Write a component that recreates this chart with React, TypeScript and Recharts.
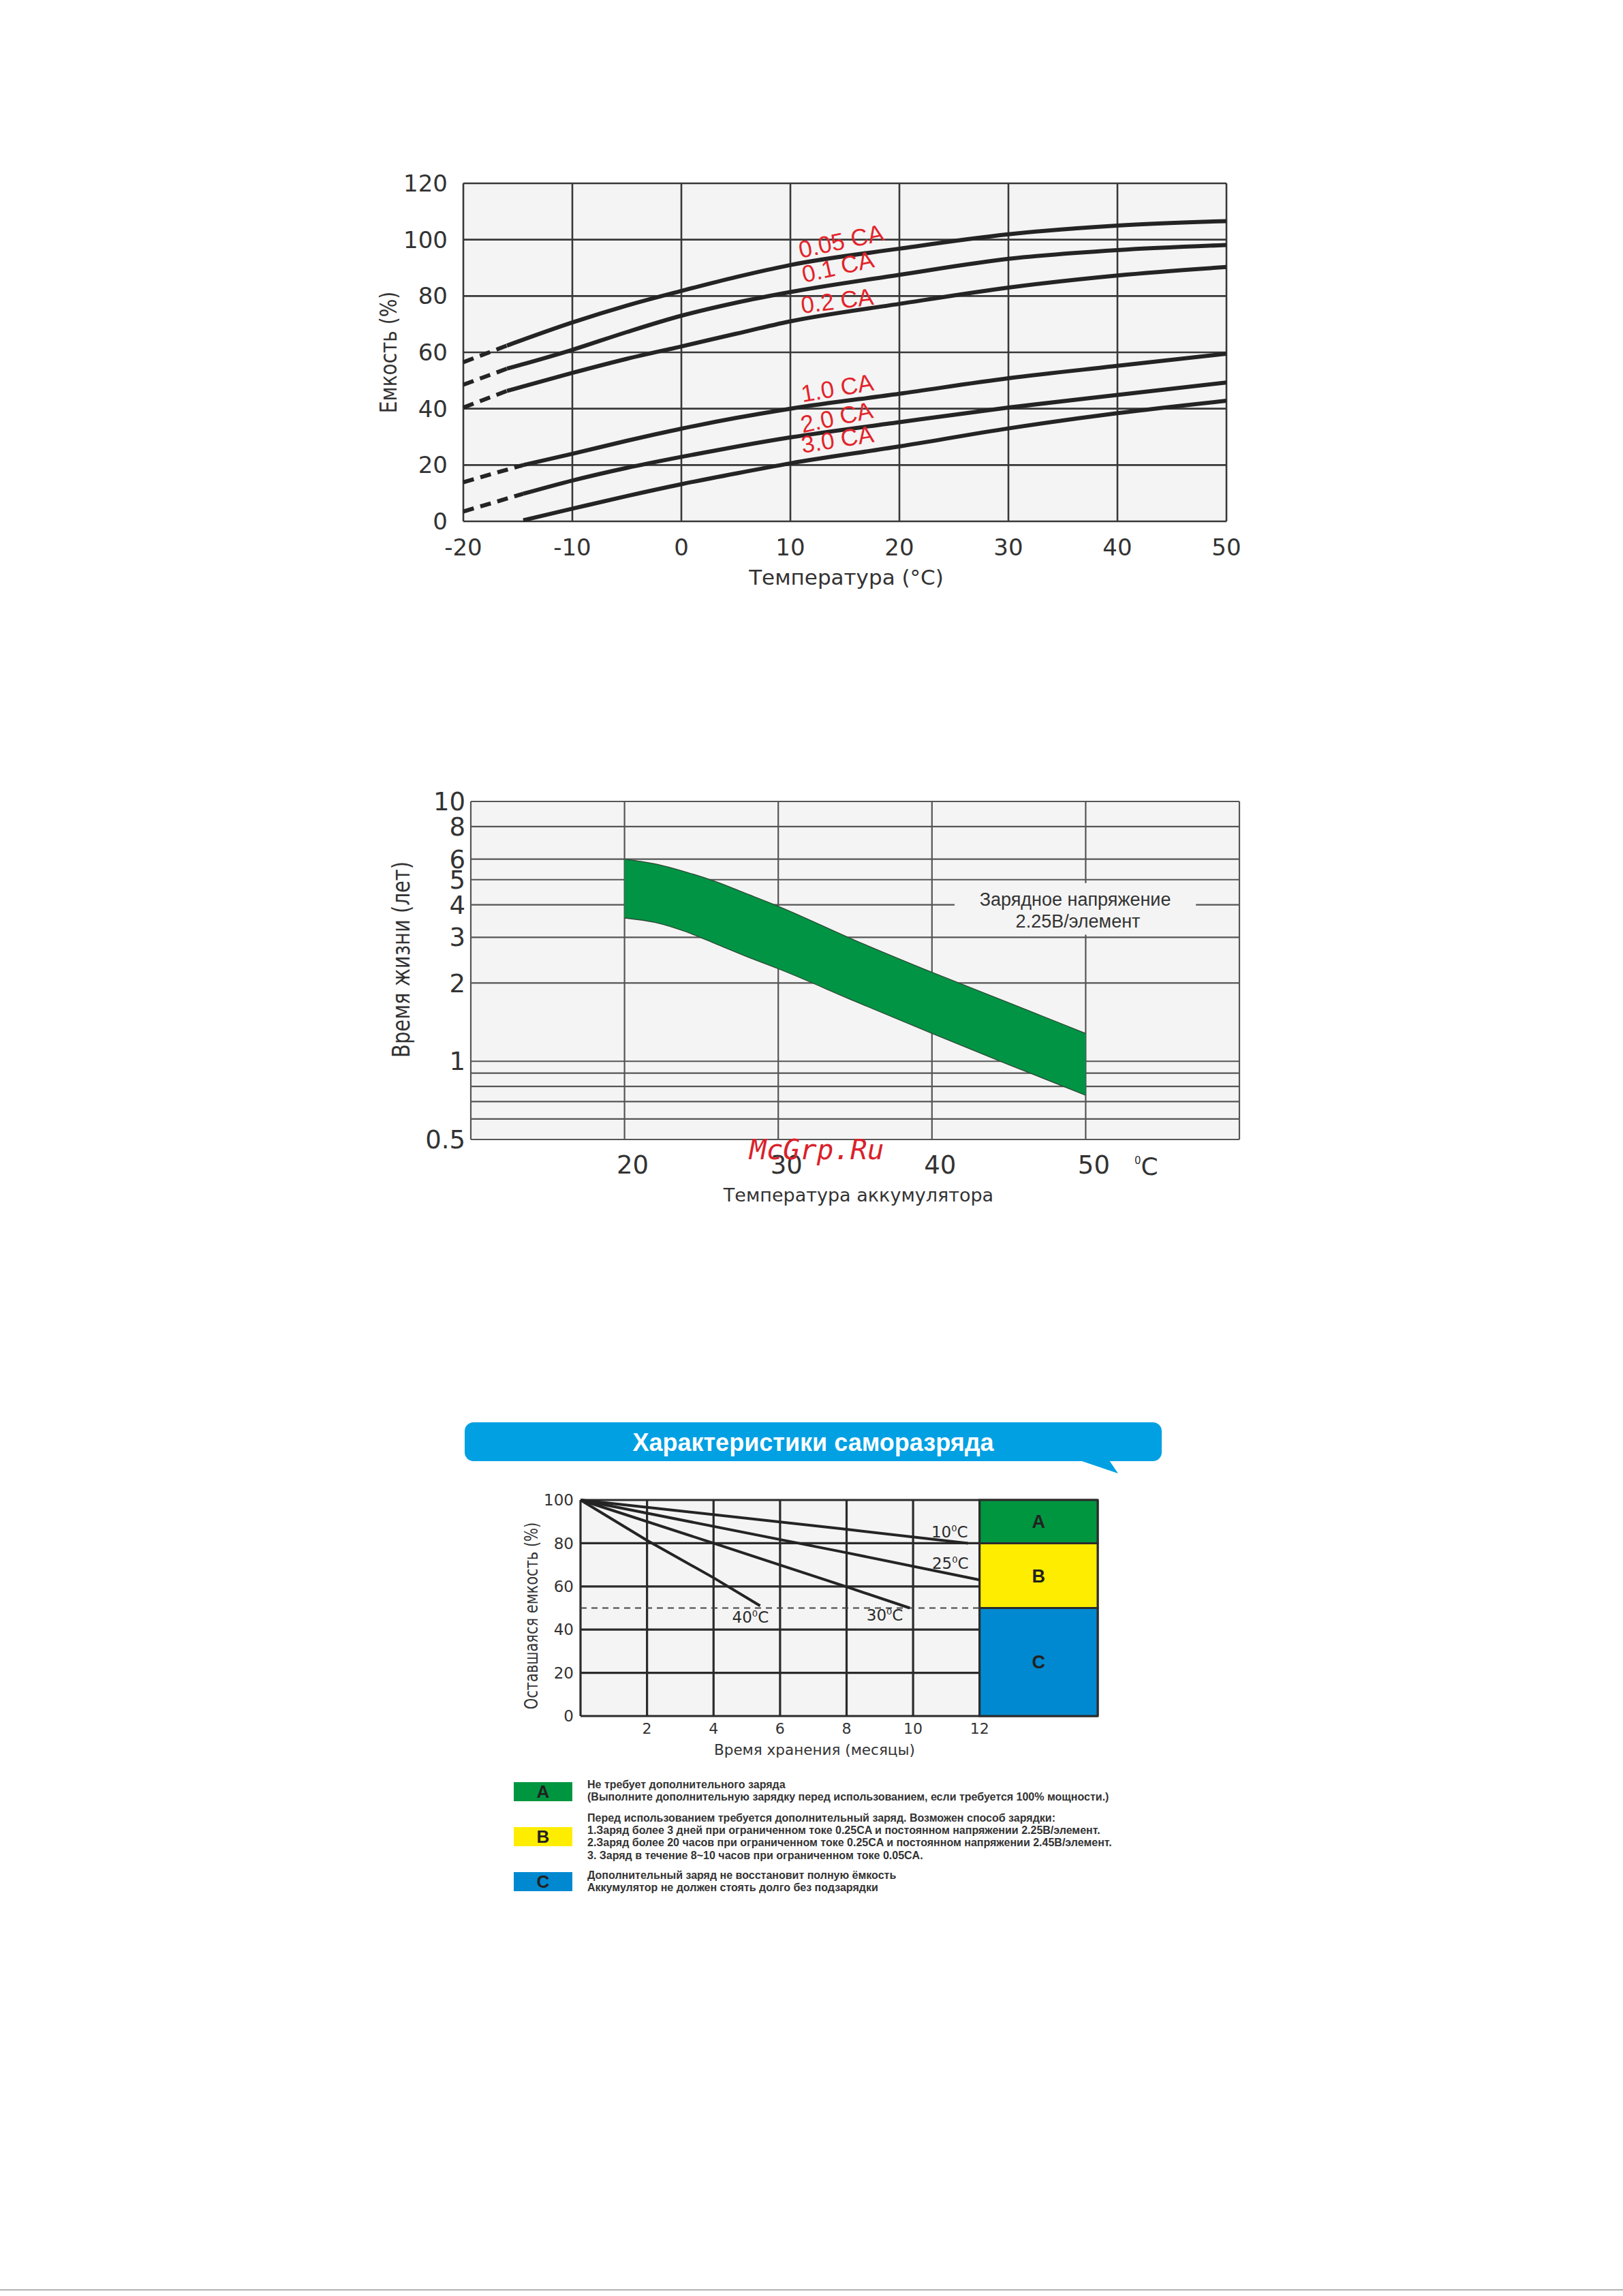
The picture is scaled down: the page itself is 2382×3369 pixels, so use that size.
import React from "react";
import {
  LineChart,
  ComposedChart,
  Line,
  Area,
  XAxis,
  YAxis,
  CartesianGrid,
  ReferenceDot,
  ReferenceArea,
  ReferenceLine,
} from "recharts";

// ---------- chart 1: capacity vs temperature ----------
const tempTicks = [-20, -10, 0, 10, 20, 30, 40, 50];
const capTicks = [0, 20, 40, 60, 80, 100, 120];
const upperTemps = [-16, -10, -5, 0, 5, 10, 20, 30, 40, 50];
const lowerTemps = [-14.5, -10, -5, 0, 5, 10, 20, 30, 40, 50];
const cap005 = [62.4, 70.6, 76.6, 81.8, 86.7, 91.0, 96.8, 101.9, 105.0, 106.6];
const cap01 = [54.2, 60.9, 67.2, 73.0, 77.6, 81.4, 87.5, 93.2, 96.3, 98.1];
const cap02 = [46.3, 52.7, 57.7, 62.1, 66.6, 71.0, 77.2, 83.0, 87.3, 90.3];
const cap10 = [20.0, 24.0, 28.6, 32.9, 36.7, 40.0, 45.3, 50.8, 55.2, 59.5];
const cap20 = [9.8, 14.5, 19.0, 22.9, 26.5, 29.8, 35.2, 40.4, 44.9, 49.3];
const cap30 = [0.4, 4.5, 9.0, 13.2, 17.0, 20.6, 26.6, 33.0, 38.4, 42.8];
// value of each dashed extension at -20 °C
const dashStart = [56.5, 48.5, 40.4, 13.9, 3.5];
const rateNames = ["0.05 CA", "0.1 CA", "0.2 CA", "1.0 CA", "2.0 CA", "3.0 CA"];

// ---------- chart 2: service life ----------
const lifeTempTicks = [10, 20, 30, 40, 50, 60];
const lifeTicks = [0.5, 0.6, 0.7, 0.8, 0.9, 1, 2, 3, 4, 5, 6, 8, 10];
const lifeLabelled = [0.5, 1, 2, 3, 4, 5, 6, 8, 10];
const bandTemps = [20, 22, 24, 26, 28, 30, 35, 40, 45, 50];
const lifeHigh = [6.0, 5.75, 5.35, 4.9, 4.4, 3.95, 2.92, 2.2, 1.68, 1.28];
const lifeLow = [3.56, 3.42, 3.15, 2.82, 2.52, 2.27, 1.7, 1.28, 0.97, 0.74];

// ---------- chart 3: self discharge ----------
const monthTicks = [0, 2, 4, 6, 8, 10, 12];
const remainTicks = [0, 20, 40, 60, 80, 100];
const months10 = [0, 8, 11.65];
const remain10 = [100, 86.4, 80];
const months25 = [0, 8, 12];
const remain25 = [100, 75.6, 63];
const months30 = [0, 4, 8, 9.9];
const remain30 = [100, 80, 59.8, 50];
const months40 = [0, 2, 4, 5.4];
const remain40 = [100, 81.3, 64, 51];
const zoneNames = ["A", "B", "C"];
const zoneTop = [100, 80, 50];
const zoneBottom = [80, 50, 0];
const zoneColors = ["#009640", "#ffed00", "#0089d0"];
const boxEnd = 15.55;

const legendA = [
  "Не требует дополнительного заряда",
  "(Выполните дополнительную зарядку перед использованием, если требуется 100% мощности.)",
];
const legendB = [
  "Перед использованием требуется дополнительный заряд. Возможен способ зарядки:",
  "1.Заряд более 3 дней при ограниченном токе 0.25CA и постоянном напряжении 2.25В/элемент.",
  "2.Заряд более 20 часов при ограниченном токе 0.25CA и постоянном напряжении 2.45В/элемент.",
  "3. Заряд в течение 8~10 часов при ограниченном токе 0.05CA.",
];
const legendC = [
  "Дополнительный заряд не восстановит полную ёмкость",
  "Аккумулятор не должен стоять долго без подзарядки",
];

const toRows = (xs: number[], ys: number[]) => xs.map((t, i) => ({ t, v: ys[i] }));

const WIDE = "'DejaVu Sans', sans-serif";
const ARIAL = "'Liberation Sans', Arial, sans-serif";
const INK = "#333333";

// label that renders at the centre of the reference element's viewBox
const Anchor = (props: any) => {
  const vb = props.viewBox || {};
  const x = (vb.x ?? 0) + (vb.width ?? 0) / 2;
  const y = (vb.y ?? 0) + (vb.height ?? 0) / 2;
  return props.render(x, y);
};

function CapacityChart() {
  const upper = [cap005, cap01, cap02];
  const lower = [cap10, cap20, cap30];
  const solid = [
    ...upper.map((vs) => toRows(upperTemps, vs)),
    ...lower.map((vs) => toRows(lowerTemps, vs)),
  ];
  const dashed = dashStart.map((v0, i) =>
    i < 3
      ? [{ t: -20, v: v0 }, { t: upperTemps[0], v: upper[i][0] }]
      : [{ t: -20, v: v0 }, { t: lowerTemps[0], v: lower[i - 3][0] }]
  );
  const labelAt = [
    { t: 10.94, v: 93.4, a: 12 },
    { t: 11.25, v: 84.7, a: 12.5 },
    { t: 11.06, v: 73.8, a: 7 },
    { t: 11.13, v: 42.3, a: 9.5 },
    { t: 11.13, v: 31.4, a: 12 },
    { t: 11.13, v: 24.2, a: 9 },
  ];
  return (
    <div style={{ position: "absolute", left: 540, top: 230 }}>
      <LineChart width={1300} height={660} margin={{ top: 39, right: 40, bottom: 0, left: 0 }}>
        <CartesianGrid stroke="#383838" strokeWidth={2.6} fill="#f4f4f4" fillOpacity={1} />
        <XAxis
          type="number"
          dataKey="t"
          domain={[-20, 50]}
          ticks={tempTicks}
          height={125}
          axisLine={false}
          tickLine={false}
          tickSize={0}
          tickMargin={26}
          tick={{ fontSize: 34, fill: INK, fontFamily: WIDE }}
          interval={0}
        />
        <YAxis
          type="number"
          domain={[0, 120]}
          ticks={capTicks}
          width={140}
          axisLine={false}
          tickLine={false}
          tickSize={0}
          tickMargin={23}
          tick={{ fontSize: 34, fill: INK, fontFamily: WIDE }}
          interval={0}
        />
        {dashed.map((rows, i) => (
          <Line
            key={"d" + i}
            data={rows}
            dataKey="v"
            type="linear"
            stroke="#242424"
            strokeWidth={6}
            strokeDasharray="16 10"
            dot={false}
            isAnimationActive={false}
          />
        ))}
        {solid.map((rows, i) => (
          <Line
            key={"s" + i}
            data={rows}
            dataKey="v"
            type="monotone"
            stroke="#242424"
            strokeWidth={6}
            dot={false}
            isAnimationActive={false}
          />
        ))}
        {labelAt.map((p, i) => (
          <ReferenceDot
            key={"l" + i}
            x={p.t}
            y={p.v}
            r={0}
            fill="none"
            stroke="none"
            label={
              <Anchor
                render={(x: number, y: number) => (
                  <text
                    x={x}
                    y={y}
                    transform={`rotate(${-p.a} ${x} ${y})`}
                    fill="#e3242b"
                    fontSize={35}
                    fontFamily={ARIAL}
                  >
                    {rateNames[i]}
                  </text>
                )}
              />
            }
          />
        ))}
      </LineChart>
    </div>
  );
}

function LifeTick(props: any) {
  const { x, y, payload } = props;
  const v = payload.value;
  if (v === 10 || v === 60) return null;
  return (
    <text x={x + 12} y={y} dy={50} textAnchor="middle" fontSize={37} fill={INK} fontFamily={WIDE}>
      {v}
    </text>
  );
}

function LifeChart() {
  const rows = bandTemps.map((t, i) => ({ t, range: [lifeLow[i], lifeHigh[i]] }));
  return (
    <div style={{ position: "absolute", left: 540, top: 1130 }}>
      <ComposedChart
        width={1320}
        height={660}
        data={rows}
        margin={{ top: 46, right: 41, bottom: 0, left: 0 }}
      >
        <CartesianGrid stroke="#555555" strokeWidth={2.2} fill="#f4f4f4" fillOpacity={1} />
        <XAxis
          type="number"
          dataKey="t"
          domain={[10, 60]}
          ticks={lifeTempTicks}
          height={118}
          axisLine={false}
          tickLine={false}
          tickSize={0}
          tickMargin={0}
          tick={<LifeTick />}
          interval={0}
        />
        <YAxis
          type="number"
          scale="log"
          domain={[0.5, 10]}
          allowDataOverflow
          ticks={lifeTicks}
          width={151}
          axisLine={false}
          tickLine={false}
          tickSize={0}
          tickMargin={8}
          interval={0}
          tickFormatter={(v: number) => (lifeLabelled.includes(v) ? String(v) : "")}
          tick={{ fontSize: 37, fill: INK, fontFamily: WIDE }}
        />
        <ReferenceArea
          x1={41.47}
          x2={57.17}
          y1={3.07}
          y2={4.85}
          fill="#f4f4f4"
          fillOpacity={1}
          stroke="none"
          label={
            <Anchor
              render={(x: number, y: number) => (
                <text textAnchor="middle" fontSize={27} fill={INK} fontFamily={ARIAL}>
                  <tspan x={x} y={y - 5}>
                    Зарядное напряжение
                  </tspan>
                  <tspan x={x + 4} y={y + 27.5}>
                    2.25В/элемент
                  </tspan>
                </text>
              )}
            />
          }
        />
        <Area
          dataKey="range"
          type="monotone"
          fill="#009444"
          fillOpacity={1}
          stroke="#2e4a36"
          strokeWidth={1.3}
          dot={false}
          activeDot={false}
          isAnimationActive={false}
        />
      </ComposedChart>
    </div>
  );
}

function DegreeLabel({ x, y, num }: { x: number; y: number; num: string }) {
  return (
    <text x={x} y={y} fontSize={23} fill="#2b2b2b" fontFamily={WIDE}>
      <tspan>{num}</tspan>
      <tspan dy={-9} fontSize={13}>
        0
      </tspan>
      <tspan dy={9}>C</tspan>
    </text>
  );
}

function DischargeChart() {
  const series = [
    toRows(months10, remain10),
    toRows(months25, remain25),
    toRows(months30, remain30),
    toRows(months40, remain40),
  ];
  const tempLabels = [
    { m: 10.55, v: 82.6, n: "10" },
    { m: 10.57, v: 68.2, n: "25" },
    { m: 8.6, v: 44.2, n: "30" },
    { m: 4.56, v: 43.2, n: "40" },
  ];
  return (
    <div style={{ position: "absolute", left: 700, top: 2170 }}>
      <LineChart width={960} height={430} margin={{ top: 31, right: 49, bottom: 0, left: 0 }}>
        <CartesianGrid stroke="#2b2b2b" strokeWidth={3.2} fill="#f4f4f4" fillOpacity={1} />
        <XAxis
          type="number"
          dataKey="t"
          domain={[0, boxEnd]}
          ticks={monthTicks}
          height={82}
          axisLine={false}
          tickLine={false}
          tickSize={0}
          tickMargin={10}
          interval={0}
          tickFormatter={(v: number) => (v === 0 ? "" : String(v))}
          tick={{ fontSize: 22, fill: INK, fontFamily: WIDE }}
        />
        <YAxis
          type="number"
          domain={[0, 100]}
          ticks={remainTicks}
          width={152}
          axisLine={false}
          tickLine={false}
          tickSize={0}
          tickMargin={10}
          interval={0}
          tick={{ fontSize: 23, fill: INK, fontFamily: WIDE }}
        />
        <ReferenceLine
          segment={[
            { x: 0, y: 50 },
            { x: 12, y: 50 },
          ]}
          stroke="#444"
          strokeWidth={2}
          strokeDasharray="9 7"
        />
        {zoneNames.map((z, i) => (
          <ReferenceArea
            key={z}
            x1={12}
            x2={boxEnd}
            y1={zoneBottom[i]}
            y2={zoneTop[i]}
            fill={zoneColors[i]}
            fillOpacity={1}
            stroke="#2b2b2b"
            strokeWidth={3}
            label={{
              value: z,
              position: "center",
              fill: "#222",
              fontSize: 27,
              fontWeight: 700,
              fontFamily: ARIAL,
            }}
          />
        ))}
        {series.map((rows, i) => (
          <Line
            key={i}
            data={rows}
            dataKey="v"
            type="linear"
            stroke="#242424"
            strokeWidth={4}
            dot={false}
            isAnimationActive={false}
          />
        ))}
        {tempLabels.map((p) => (
          <ReferenceDot
            key={p.n}
            x={p.m}
            y={p.v}
            r={0}
            fill="none"
            stroke="none"
            label={<Anchor render={(x: number, y: number) => <DegreeLabel x={x} y={y} num={p.n} />} />}
          />
        ))}
      </LineChart>
    </div>
  );
}

function RotTitle({ x, y, size, sx, text }: { x: number; y: number; size: number; sx: number; text: string }) {
  return (
    <text
      transform={`translate(${x} ${y}) scale(${sx} 1) rotate(-90)`}
      textAnchor="middle"
      fontSize={size}
      fill={INK}
      fontFamily={WIDE}
    >
      {text}
    </text>
  );
}

function Overlay() {
  const swatches = [
    { y: 2615, lines: legendA, base: 2624 },
    { y: 2681, lines: legendB, base: 2673 },
    { y: 2747, lines: legendC, base: 2757 },
  ];
  return (
    <svg
      width={2382}
      height={3369}
      style={{ position: "absolute", left: 0, top: 0, pointerEvents: "none" }}
    >
      {/* chart 1 titles */}
      <text x={1242} y={858} textAnchor="middle" fontSize={31} fill={INK} fontFamily={WIDE}>
        Температура (°C)
      </text>
      <RotTitle x={582} y={517} size={28} sx={1.2} text="Емкость (%)" />

      {/* chart 2 titles */}
      <text x={1260} y={1763} textAnchor="middle" fontSize={27} fill={INK} fontFamily={WIDE}>
        Температура аккумулятора
      </text>
      <text x={1665} y={1724} fontSize={36} fill={INK} fontFamily={WIDE}>
        <tspan dy={-16} fontSize={15}>
          0
        </tspan>
        <tspan dy={16}>C</tspan>
      </text>
      <RotTitle x={601} y={1408} size={29} sx={1.25} text="Время жизни (лет)" />
      <text
        x={1100}
        y={1701}
        fontSize={41}
        fill="#d9222b"
        fontStyle="italic"
        fontFamily="'DejaVu Sans Mono', monospace"
      >
        McGrp.Ru
      </text>

      {/* chart 3 header */}
      <rect x={682} y={2087} width={1023} height={57} rx={13} fill="#00a0e3" />
      <polygon points="1585,2143 1641,2162 1628,2143" fill="#00a0e3" />
      <text x={1193.5} y={2129} textAnchor="middle" fontSize={36} fontWeight={700} fill="#ffffff" fontFamily={ARIAL}>
        Характеристики саморазряда
      </text>

      {/* chart 3 titles */}
      <text x={1048} y={2575} fontSize={21.5} fill={INK} fontFamily={WIDE}>
        Время хранения (месяцы)
      </text>
      <RotTitle x={789} y={2371} size={21} sx={1.3} text="Оставшаяся емкость (%)" />

      {/* legend */}
      {swatches.map((s, i) => (
        <g key={i}>
          <rect x={754} y={s.y} width={86} height={28} fill={zoneColors[i]} />
          <text
            x={797}
            y={s.y + 23}
            textAnchor="middle"
            fontSize={26}
            fontWeight={700}
            fill="#222"
            fontFamily={ARIAL}
          >
            {zoneNames[i]}
          </text>
          {s.lines.map((ln, j) => (
            <text
              key={j}
              x={862}
              y={s.base + j * 18.2}
              fontSize={16}
              fontWeight={700}
              fill={INK}
              fontFamily={ARIAL}
            >
              {ln}
            </text>
          ))}
        </g>
      ))}

      <line x1={0} y1={3360} x2={2382} y2={3360} stroke="#9a9a9a" strokeWidth={1.5} />
    </svg>
  );
}

export default function App() {
  return (
    <div
      style={{
        position: "absolute",
        left: 0,
        top: 0,
        width: 2382,
        height: 3369,
        background: "#ffffff",
        fontFamily: WIDE,
      }}
    >
      <CapacityChart />
      <LifeChart />
      <DischargeChart />
      <Overlay />
    </div>
  );
}
